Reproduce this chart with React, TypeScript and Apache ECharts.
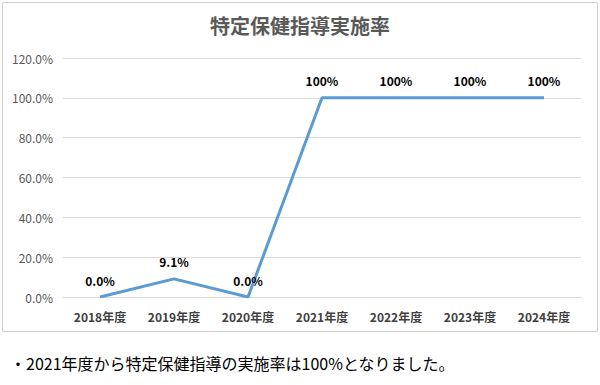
import React, { useEffect, useRef } from "react";
import * as echarts from "echarts";

const categories = ["2018年度", "2019年度", "2020年度", "2021年度", "2022年度", "2023年度", "2024年度"];
const values = [0, 9.1, 0, 100, 100, 100, 100];
const valueLabels = ["0.0%", "9.1%", "0.0%", "100%", "100%", "100%", "100%"];
const titleText = "特定保健指導実施率";
const noteText = "・2021年度から特定保健指導の実施率は100%となりました。";

const JP = '"Noto Sans CJK JP", "Noto Sans", sans-serif';

export default function App() {
  const ref = useRef<HTMLDivElement>(null);
  useEffect(() => {
    if (!ref.current) return;
    const chart = echarts.init(ref.current, undefined, { renderer: "svg" });
    chart.setOption({
      animation: false,
      backgroundColor: "#ffffff",
      title: {
        text: titleText,
        left: "center",
        top: 10,
        textStyle: { fontFamily: JP, fontSize: 20, fontWeight: "bold", color: "#595959" },
      },
      grid: { left: 63, right: 19, top: 58, bottom: 88, containLabel: false },
      xAxis: {
        type: "category",
        data: categories,
        boundaryGap: true,
        axisLine: { show: true, lineStyle: { color: "#d9d9d9", width: 1 } },
        axisTick: { show: false },
        axisLabel: { fontFamily: JP, fontSize: 12, fontWeight: "bold", color: "#404040", margin: 13 },
      },
      yAxis: {
        type: "value",
        min: 0,
        max: 120,
        interval: 20,
        axisLine: { show: false },
        axisTick: { show: false },
        splitLine: { lineStyle: { color: "#d9d9d9", width: 1 } },
        axisLabel: {
          fontFamily: JP,
          fontSize: 12,
          color: "#595959",
          margin: 10,
          formatter: (v: number) => v.toFixed(1) + "%",
        },
      },
      series: [
        {
          type: "line",
          data: values,
          symbol: "circle",
          symbolSize: 2,
          showSymbol: true,
          itemStyle: { color: "rgba(0,0,0,0)", borderColor: "rgba(0,0,0,0)", borderWidth: 0 },
          lineStyle: { color: "#5B9BD5", width: 3 },
          label: {
            show: true,
            position: "top",
            distance: 10,
            fontFamily: JP,
            fontSize: 12,
            fontWeight: "bold",
            color: "#000000",
            formatter: (p: any) => valueLabels[p.dataIndex],
          },
        },
      ],
      graphic: [
        {
          type: "rect",
          shape: { x: 2.5, y: 2.5, width: 595, height: 329 },
          style: { fill: "none", stroke: "#d0d0d0", lineWidth: 1 },
          silent: true,
        },
        {
          type: "text",
          left: 10,
          top: 355,
          style: { text: noteText, fontFamily: JP, fontSize: 16, fill: "#000000" },
        },
      ],
    });
    return () => chart.dispose();
  }, []);
  return (
    <div
      ref={ref}
      style={{ position: "fixed", left: 0, top: 0, width: 600, height: 385 }}
    />
  );
}
